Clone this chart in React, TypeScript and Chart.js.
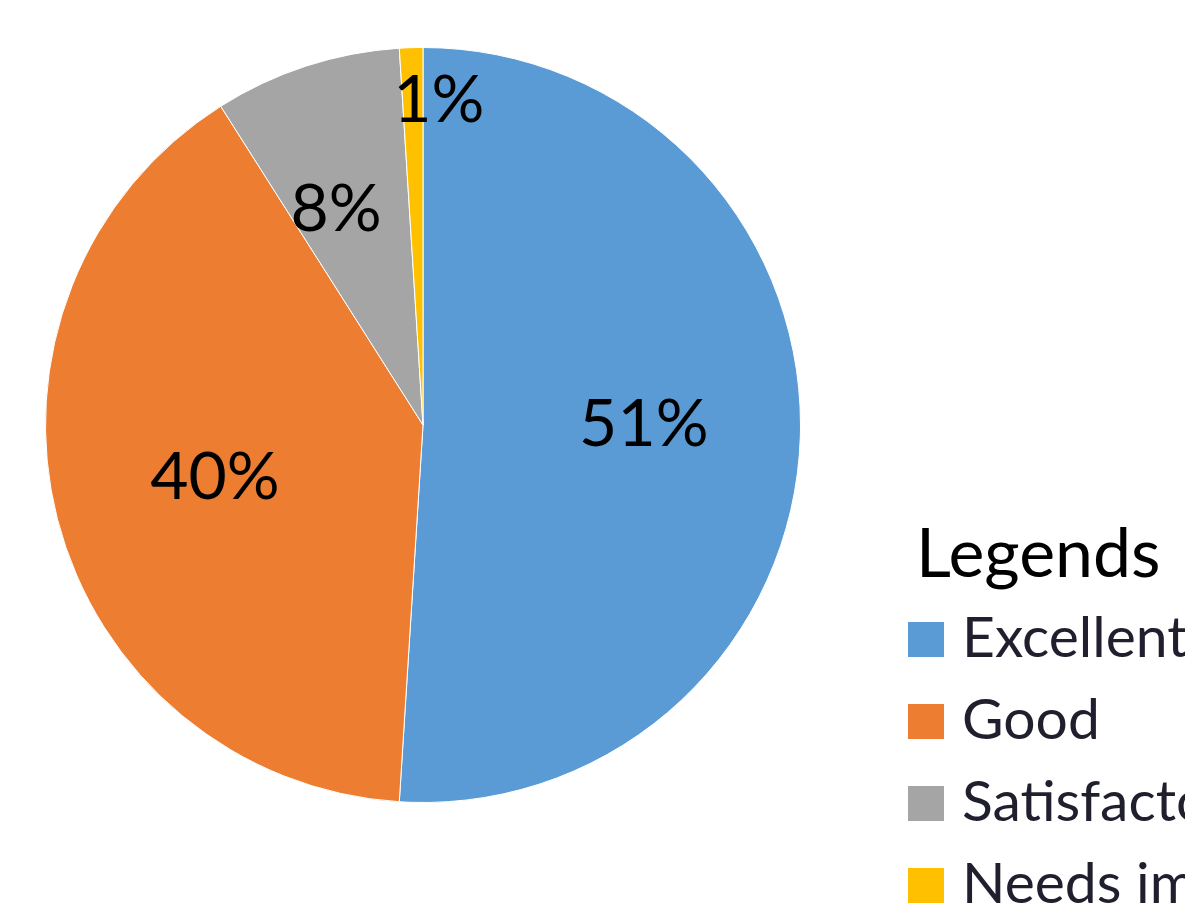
import React, { useEffect, useRef } from "react";
import { Chart, registerables } from "chart.js";

Chart.register(...registerables);

const categories = ["Excellent", "Good", "Satisfactory", "Needs improvement"];
const values = [51, 40, 8, 1];
const percentLabels = ["51%", "40%", "8%", "1%"];
const colors = ["#5B9BD5", "#ED7D31", "#A5A5A5", "#FFC000"];
const legendTitle = "Legends";

const FONT = "Lato, 'Open Sans', sans-serif";

const overlayPlugin = {
  id: "overlay",
  afterDatasetsDraw(chart: any) {
    const ctx = chart.ctx as CanvasRenderingContext2D;
    const meta = chart.getDatasetMeta(0);
    const factors = [0.58, 0.58, 0.6, 0.86];
    const shifts = [
      [2, -7],
      [4, -2],
      [-17, 0],
      [26, 0],
    ];
    ctx.save();
    ctx.fillStyle = "#000";
    ctx.font = `66px ${FONT}`;
    ctx.textAlign = "center";
    ctx.textBaseline = "middle";
    meta.data.forEach((arc: any, i: number) => {
      const p = arc.getProps(["x", "y", "startAngle", "endAngle", "outerRadius"], true);
      const mid = (p.startAngle + p.endAngle) / 2;
      const r = p.outerRadius * factors[i];
      const x = p.x + Math.cos(mid) * r + shifts[i][0];
      const y = p.y + Math.sin(mid) * r + shifts[i][1];
      ctx.fillText(percentLabels[i], x, y);
    });

    // legend
    ctx.textAlign = "left";
    ctx.textBaseline = "alphabetic";
    ctx.fillStyle = "#000";
    ctx.font = `68px ${FONT}`;
    ctx.fillText(legendTitle, 916, 577);
    ctx.font = `57px ${FONT}`;
    categories.forEach((c, i) => {
      const top = 622 + i * 82;
      ctx.fillStyle = colors[i];
      ctx.fillRect(908, top, 36, 35);
      ctx.fillStyle = "#1f1f2e";
      ctx.fillText(c, 962, top + 35);
    });
    ctx.restore();
  },
};

export default function App() {
  const ref = useRef<HTMLCanvasElement | null>(null);
  useEffect(() => {
    if (!ref.current) return;
    const chart = new Chart(ref.current, {
      type: "pie",
      data: {
        labels: categories,
        datasets: [
          {
            data: values,
            backgroundColor: colors,
            borderColor: "#ffffff",
            borderWidth: 1,
          },
        ],
      },
      options: {
        responsive: false,
        animation: false,
        layout: { padding: { left: 45, top: 47, right: 384, bottom: 106 } },
        plugins: {
          legend: { display: false },
          tooltip: { enabled: false },
        },
      },
      plugins: [overlayPlugin],
    });
    return () => chart.destroy();
  }, []);
  return (
    <div style={{ position: "fixed", left: 0, top: 0, width: 1185, height: 909, background: "#fff", overflow: "hidden" }}>
      <canvas ref={ref} width={1185} height={909} style={{ width: 1185, height: 909 }} />
    </div>
  );
}
